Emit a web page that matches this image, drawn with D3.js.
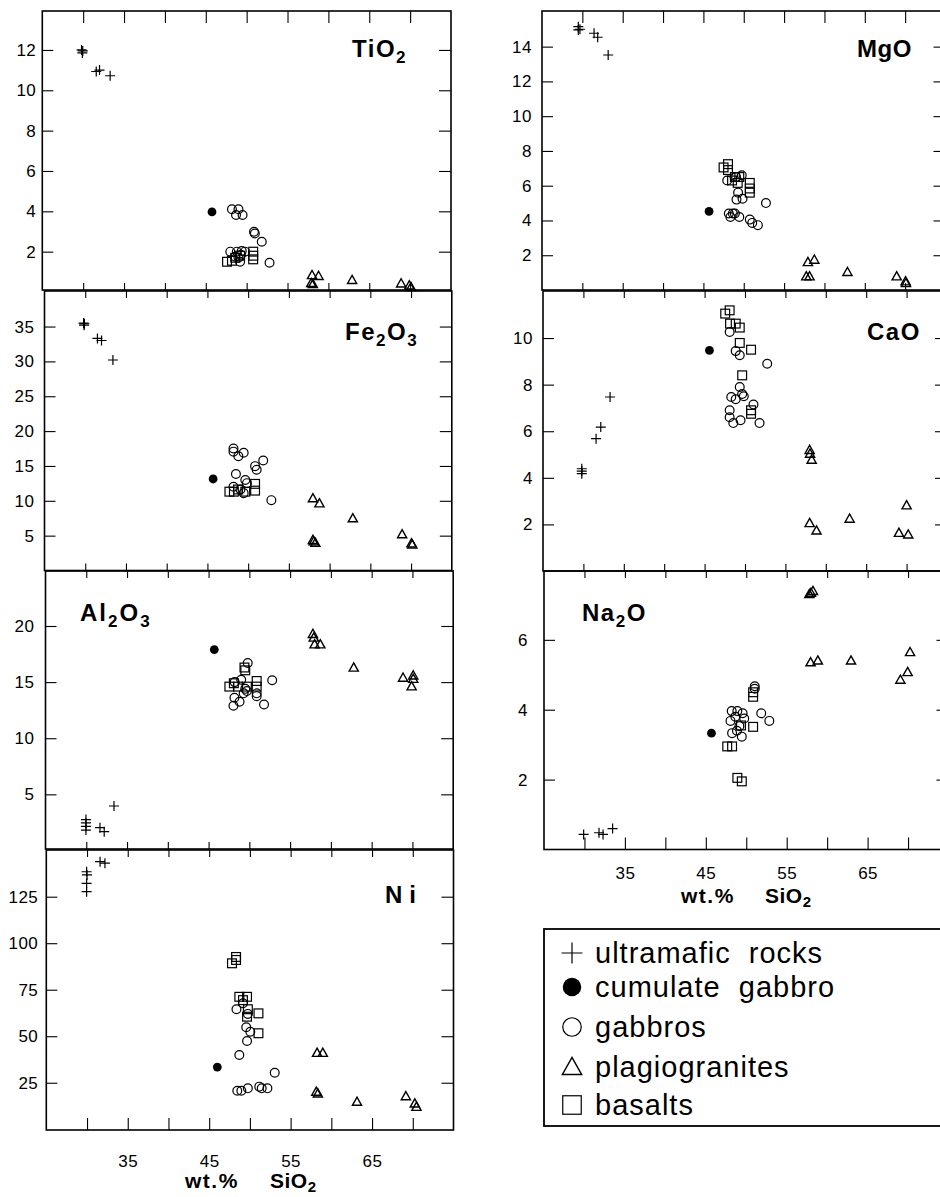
<!DOCTYPE html>
<html><head><meta charset="utf-8">
<script src="https://cdn.jsdelivr.net/npm/d3@7"></script>
<style>body{margin:0;background:#fff} svg{display:block}</style>
</head><body><svg id="c" width="940" height="1197"></svg>
<script>
// ---------- data ----------
const sio2Domain = [25, 75];
const xTicks = [30, 35, 40, 45, 50, 55, 60, 65, 70];
const xLabels = [35, 45, 55, 65];
const legendLabels = ["ultramafic  rocks", "cumulate  gabbro", "gabbros", "plagiogranites", "basalts"];

// TiO2
const tio2Ticks = [2, 4, 6, 8, 10, 12];
const tio2Ultra = [[29.8,12.0],[29.9,11.85],[29.95,11.95],[31.6,10.93],[32.0,11.0],[33.3,10.72]];
const tio2Cumul = [[45.76,3.97]];
const tio2Gabbro = [[48.2,4.1],[49.0,4.1],[48.7,3.82],[49.5,3.82],[50.9,2.99],[51.0,2.9],[51.85,2.49],[52.8,1.45],[48.0,2.0],[48.8,2.0],[49.4,2.03],[49.8,2.0],[48.6,1.75],[49.2,1.5],[49.3,1.85],[49.0,1.7]];
const tio2Plagio = [[57.9,0.45],[58.0,0.84],[58.1,0.4],[58.8,0.8],[62.9,0.6],[68.9,0.43],[69.9,0.33],[70.1,0.25]];
const tio2Basalt = [[47.6,1.5],[48.2,1.55],[48.6,1.7],[49.2,1.8],[50.8,2.0],[50.8,1.8],[50.8,1.62]];

// Fe2O3
const fe2o3Ticks = [5, 10, 15, 20, 25, 30, 35];
const fe2o3Ultra = [[29.8,35.5],[29.85,35.2],[29.9,35.4],[31.5,33.3],[32.0,33.0],[33.4,30.2]];
const fe2o3Cumul = [[45.7,13.13]];
const fe2o3Gabbro = [[48.2,17.5],[48.2,17.05],[48.8,16.4],[49.45,16.9],[50.85,14.97],[51.05,14.46],[51.85,15.78],[48.5,13.85],[52.85,10.09],[48.2,12.02],[49.65,12.99],[49.85,12.53],[49.45,11.1],[49.05,11.62]];
const fe2o3Plagio = [[57.95,10.37],[58.75,9.64],[62.85,7.5],[68.9,5.21],[70.05,3.9],[70.15,3.74],[57.95,4.4],[58.25,3.99],[58.05,4.2]];
const fe2o3Basalt = [[47.7,11.31],[48.25,11.31],[48.75,11.62],[50.85,12.43],[50.85,11.46],[49.65,11.31]];

// Al2O3
const al2o3Ticks = [5, 10, 15, 20];
const al2o3Ultra = [[29.96,2.75],[29.96,2.45],[29.96,2.15],[29.96,1.82],[31.68,2.03],[32.2,1.67],[33.4,3.96]];
const al2o3Cumul = [[45.7,17.9]];
const al2o3Gabbro = [[49.8,16.7],[52.8,15.17],[48.17,13.6],[48.05,12.9],[48.8,13.25],[51.8,13.0],[50.9,14.0],[50.9,13.75],[48.2,15.0],[49.0,15.2],[49.5,14.4],[49.3,14.0],[49.7,14.2]];
const al2o3Plagio = [[57.8,19.3],[57.9,18.97],[58.0,18.37],[58.7,18.37],[62.8,16.3],[68.85,15.4],[70.1,15.6],[70.1,15.3],[69.9,14.63]];
const al2o3Basalt = [[47.55,14.6],[48.1,14.9],[49.5,16.05],[49.4,16.3],[50.9,15.1],[50.9,14.6],[48.6,14.6],[49.7,14.6]];

// Ni
const niTicks = [25, 50, 75, 100, 125];
const niUltra = [[29.95,138.4],[30.0,136.7],[29.95,132.2],[29.95,127.7],[31.6,143.8],[32.2,143.0]];
const niCumul = [[46.0,33.4]];
const niGabbro = [[48.35,64.5],[49.55,54.8],[50.05,52.4],[49.65,47.4],[48.7,39.9],[53.05,30.4],[48.45,20.7],[48.95,20.7],[49.75,22.0],[51.15,22.9],[51.45,22.0],[52.15,22.0],[49.15,67.7],[49.75,62.0]];
const niPlagio = [[58.25,41.1],[58.95,41.1],[58.15,20.2],[58.35,19.3],[63.15,14.8],[69.15,17.8],[70.25,13.9],[70.45,12.1]];
const niBasalt = [[47.8,89.2],[48.3,91.0],[48.3,92.6],[48.7,71.2],[49.65,71.2],[49.15,69.4],[49.75,64.5],[49.65,60.5],[51.05,62.3],[51.05,51.6]];

// MgO
const mgoTicks = [2, 4, 6, 8, 10, 12, 14];
const mgoUltra = [[29.5,15.15],[29.7,15.0],[29.5,14.96],[31.45,14.77],[31.9,14.54],[33.2,13.52]];
const mgoCumul = [[45.7,4.52]];
const mgoGabbro = [[47.95,6.3],[49.3,5.6],[49.1,5.2],[49.85,5.25],[52.75,5.0],[48.15,4.4],[48.65,4.4],[48.35,4.2],[48.9,4.4],[49.45,4.2],[50.75,4.05],[51.05,3.86],[51.75,3.73],[49.75,6.6],[49.05,6.5]];
const mgoPlagio = [[57.95,1.61],[58.75,1.75],[57.75,0.79],[58.15,0.79],[62.85,1.04],[68.95,0.79],[70.05,0.5],[70.1,0.4]];
const mgoBasalt = [[47.5,7.05],[48.05,7.24],[48.05,6.9],[48.9,6.5],[49.45,6.5],[49.25,6.16],[50.75,6.16],[50.75,5.84],[50.75,5.6],[48.55,6.3]];

// CaO
const caoTicks = [2, 4, 6, 8, 10];
const caoUltra = [[29.8,4.39],[29.8,4.29],[29.8,4.18],[31.57,5.68],[32.15,6.18],[33.3,7.47]];
const caoCumul = [[45.6,9.47]];
const caoGabbro = [[48.1,10.26],[48.85,9.44],[49.35,9.26],[52.75,8.9],[49.35,7.9],[48.3,7.47],[48.85,7.37],[49.65,7.6],[49.85,7.5],[51.05,7.15],[48.1,6.9],[48.1,6.6],[48.55,6.35],[49.45,6.47],[51.8,6.35]];
const caoPlagio = [[58.0,5.2],[58.05,5.04],[58.25,4.78],[58.0,2.06],[58.85,1.74],[62.95,2.25],[70.0,2.82],[69.05,1.64],[70.2,1.57]];
const caoBasalt = [[48.1,11.19],[47.55,11.05],[48.15,10.62],[48.85,10.62],[49.35,10.45],[49.35,9.79],[50.75,9.5],[49.65,8.4],[50.75,6.9],[50.75,6.75]];

// Na2O
const na2oTicks = [2, 4, 6];
const na2oUltra = [[29.9,0.43],[31.8,0.48],[32.3,0.43],[33.48,0.6]];
const na2oCumul = [[45.7,3.33]];
const na2oGabbro = [[48.2,3.96],[48.9,3.96],[49.55,3.9],[48.05,3.68],[48.65,3.8],[48.25,3.33],[49.45,3.23],[51.85,3.9],[52.85,3.68],[51.05,4.67],[51.05,4.6],[49.15,3.53],[49.75,3.75],[48.85,3.4]];
const na2oPlagio = [[57.8,7.31],[58.0,7.35],[58.25,7.4],[57.95,5.36],[58.85,5.41],[62.95,5.41],[70.25,5.65],[69.05,4.86],[69.95,5.08]];
const na2oBasalt = [[50.85,4.37],[50.85,4.5],[50.85,3.51],[47.65,2.95],[48.25,2.95],[48.9,2.05],[49.45,1.95],[49.35,3.55]];

// ---------- layout ----------
const FONT = "'Liberation Sans', Arial, Helvetica, sans-serif";
const svg = d3.select("#c");

const panels = [
  {title:[["TiO",0],["2",1]], tx:352, ty:57, ls:1.5, xr:[42.3,451], yr:[290,11], yd:[0.1,13.93], ticks:tio2Ticks, pad:6, topOuter:true, bottomOuter:false,
   sets:[tio2Basalt,tio2Gabbro,tio2Plagio,tio2Cumul,tio2Ultra]},
  {title:[["Fe",0],["2",1],["O",0],["3",1]], tx:345, ty:340, ls:1.5, xr:[44.5,451.8], yr:[570.5,291], yd:[0,40.1], ticks:fe2o3Ticks, pad:10,
   sets:[fe2o3Basalt,fe2o3Gabbro,fe2o3Plagio,fe2o3Cumul,fe2o3Ultra]},
  {title:[["Al",0],["2",1],["O",0],["3",1]], tx:80, ty:621, ls:2, xr:[45.5,453.2], yr:[849,571], yd:[0.13,24.9], ticks:al2o3Ticks, pad:11,
   sets:[al2o3Basalt,al2o3Gabbro,al2o3Plagio,al2o3Cumul,al2o3Ultra]},
  {title:[["Ni",0]], tx:385, ty:903, ls:7, xr:[46.3,453.5], yr:[1130,850], yd:[-0.4,150.1], ticks:niTicks, pad:8, bottomOuter:true, labels:true, lpad:25,
   axisTitle:{x1:185, x2:270, y:1188},
   sets:[niBasalt,niGabbro,niPlagio,niCumul,niUltra]},
  {title:[["MgO",0]], tx:857, ty:57, ls:0.5, xr:[542,945.5], yr:[290,11], yd:[0,16.05], ticks:mgoTicks, pad:10, topOuter:true,
   sets:[mgoBasalt,mgoGabbro,mgoPlagio,mgoCumul,mgoUltra]},
  {title:[["CaO",0]], tx:867, ty:340, ls:1.5, xr:[543,947], yr:[571,291], yd:[0,12.02], ticks:caoTicks, pad:10,
   sets:[caoBasalt,caoGabbro,caoPlagio,caoCumul,caoUltra]},
  {title:[["Na",0],["2",1],["O",0]], tx:582, ty:621, ls:1.5, xr:[544,948.5], yr:[849.5,571], yd:[0,7.97], ticks:na2oTicks, pad:16, bottomOuter:true, labels:true, lpad:17,
   axisTitle:{x1:681, x2:765, y:903},
   sets:[na2oBasalt,na2oGabbro,na2oPlagio,na2oCumul,na2oUltra]}
];

const kinds = ["basalt","gabbro","plagio","cumul","ultra"];

function drawMarker(g, kind, cx, cy, s) {
  s = s || 1;
  if (kind === "ultra") {
    g.append("path").attr("d", `M${cx-5*s},${cy}H${cx+5*s}M${cx},${cy-5*s}V${cy+5*s}`)
      .attr("stroke","#000").attr("stroke-width",1.2).attr("fill","none");
  } else if (kind === "cumul") {
    g.append("circle").attr("cx",cx).attr("cy",cy).attr("r",4.4*s).attr("fill","#000");
  } else if (kind === "gabbro") {
    g.append("circle").attr("cx",cx).attr("cy",cy).attr("r",4.4*s).attr("fill","none")
      .attr("stroke","#000").attr("stroke-width",1.2);
  } else if (kind === "plagio") {
    g.append("path").attr("d",`M${cx},${cy-4.6*s}L${cx+4.6*s},${cy+3.6*s}L${cx-4.6*s},${cy+3.6*s}Z`)
      .attr("fill","none").attr("stroke","#000").attr("stroke-width",1.4);
  } else if (kind === "basalt") {
    g.append("rect").attr("x",cx-4.4*s).attr("y",cy-4.4*s).attr("width",8.8*s).attr("height",8.8*s)
      .attr("fill","none").attr("stroke","#000").attr("stroke-width",1.2);
  }
}

function writeTitle(sel, parts, big, small, shift) {
  let cur = 0;
  parts.forEach(([t, sub]) => {
    const want = sub ? shift : 0;
    sel.append("tspan").attr("dy", want - cur).attr("font-size", sub ? small : big).text(t);
    cur = want;
  });
}

panels.forEach(p => {
  const x = d3.scaleLinear().domain(sio2Domain).range(p.xr);
  const y = d3.scaleLinear().domain(p.yd).range(p.yr);
  const g = svg.append("g");
  const [L, R] = p.xr, [B, T] = p.yr;

  const yl = g.append("g").attr("transform",`translate(${L},0)`)
    .call(d3.axisLeft(y).tickValues(p.ticks).tickSizeInner(-11).tickSizeOuter(0).tickPadding(p.pad).tickFormat(d3.format("d")));
  const yr = g.append("g").attr("transform",`translate(${R},0)`)
    .call(d3.axisRight(y).tickValues(p.ticks).tickSizeInner(-12).tickSizeOuter(0).tickFormat(""));
  const xt = g.append("g").attr("transform",`translate(0,${T})`)
    .call(d3.axisTop(x).tickValues(xTicks).tickSizeInner(p.topOuter ? -12 : -7).tickSizeOuter(0).tickFormat(""));
  const xb = g.append("g").attr("transform",`translate(0,${B})`)
    .call(d3.axisBottom(x).tickValues(xTicks).tickSizeInner(p.bottomOuter ? -12 : -7).tickSizeOuter(0)
      .tickPadding(p.lpad || 3).tickFormat(d => (p.labels && xLabels.includes(d)) ? d : ""));
  [yl, yr, xt, xb].forEach(a => {
    a.select(".domain").remove();
    a.selectAll("line").attr("stroke","#000").attr("stroke-width",1.1);
    a.selectAll("text").attr("font-family",FONT).attr("font-size",17).attr("fill","#000").attr("letter-spacing",0.5);
  });

  g.append("rect").attr("x",L).attr("y",T).attr("width",R-L).attr("height",B-T)
    .attr("fill","none").attr("stroke","#000").attr("stroke-width",1.6);

  p.sets.forEach((arr, i) => {
    arr.forEach(d => drawMarker(g, kinds[i], x(d[0]), y(d[1])));
  });

  const t = g.append("text").attr("x",p.tx).attr("y",p.ty).attr("font-family",FONT)
    .attr("font-weight","bold").attr("letter-spacing",p.ls).attr("fill","#000");
  writeTitle(t, p.title, 24, 17, 6);

  if (p.axisTitle) {
    const a = p.axisTitle;
    g.append("text").attr("x",a.x1).attr("y",a.y).attr("font-family",FONT).attr("font-weight","bold")
      .attr("font-size",21).attr("letter-spacing",1.5).text("wt.%");
    const s = g.append("text").attr("x",a.x2).attr("y",a.y).attr("font-family",FONT).attr("font-weight","bold")
      .attr("letter-spacing",0.5);
    writeTitle(s, [["SiO",0],["2",1]], 21, 15, 4);
  }
});

// ---------- legend ----------
const lg = svg.append("g");
lg.append("rect").attr("x",544).attr("y",929).attr("width",410).attr("height",197)
  .attr("fill","none").attr("stroke","#000").attr("stroke-width",1.8);
const legendKinds = ["ultra","cumul","gabbro","plagio","basalt"];
const legendY = [963, 997, 1037, 1077, 1115];
legendKinds.forEach((k, i) => {
  const cy = legendY[i] - 10;
  drawMarker(lg, k, 572, cy, 2.1);
  lg.append("text").attr("x",595).attr("y",legendY[i]).attr("font-family",FONT)
    .attr("font-size",29).attr("letter-spacing",1).attr("xml:space","preserve")
    .style("white-space","pre").text(legendLabels[i]);
});
</script>
</body></html>
